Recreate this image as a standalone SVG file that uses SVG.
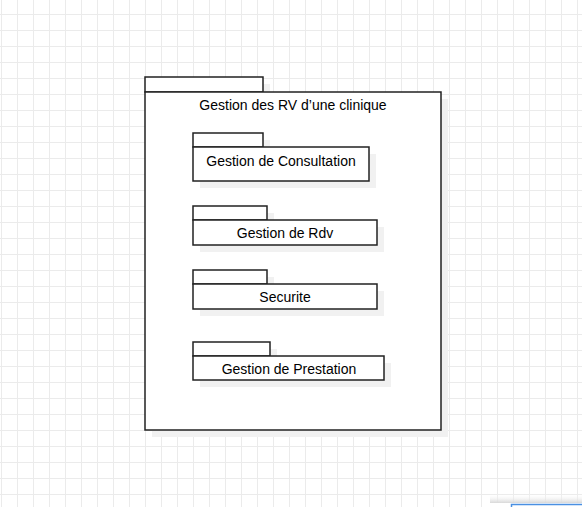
<svg xmlns="http://www.w3.org/2000/svg" width="582" height="507" viewBox="0 0 582 507">
  <defs>
    <pattern id="grid" x="1" y="14" width="16" height="16" patternUnits="userSpaceOnUse">
      <path d="M0.5 0V16M0 0.5H16" fill="none" stroke="#ebebeb" stroke-width="1"/>
    </pattern>
    <linearGradient id="uiShadow" x1="0" y1="0" x2="0" y2="1">
      <stop offset="0" stop-color="#ffffff" stop-opacity="0"/>
      <stop offset="1" stop-color="#d8d8d8"/>
    </linearGradient>
  </defs>
  <style>
    .shadow { fill: #f1f1f1; stroke: none; }
    .pkg { fill: #ffffff; stroke: #222222; stroke-width: 1.5; }
    .lbl { font-family: "Liberation Sans", Arial, sans-serif; font-size: 14px; fill: #000000; text-anchor: middle; }
  </style>
  <rect x="0" y="0" width="582" height="507" fill="#ffffff"/>
  <rect x="0" y="0" width="582" height="507" fill="url(#grid)"/>

  <g id="pkg-clinique">
    <rect class="shadow" x="152" y="84" width="118" height="15"/>
    <rect class="shadow" x="152" y="99" width="296" height="338"/>
    <rect class="pkg" x="145" y="77" width="118" height="15"/>
    <rect class="pkg" x="145" y="92" width="296" height="338"/>
    <text class="lbl" x="293" y="110">Gestion des RV d’une clinique</text>
  </g>

  <g id="pkg-consultation">
    <rect class="shadow" x="200" y="140" width="70" height="14"/>
    <rect class="shadow" x="200" y="154" width="176" height="34"/>
    <rect class="pkg" x="193" y="133" width="70" height="14"/>
    <rect class="pkg" x="193" y="147" width="176" height="34"/>
    <text class="lbl" x="281" y="166">Gestion de Consultation</text>
  </g>

  <g id="pkg-rdv">
    <rect class="shadow" x="200" y="213" width="74" height="14"/>
    <rect class="shadow" x="200" y="227" width="184" height="25"/>
    <rect class="pkg" x="193" y="206" width="74" height="14"/>
    <rect class="pkg" x="193" y="220" width="184" height="25"/>
    <text class="lbl" x="285" y="238">Gestion de Rdv</text>
  </g>

  <g id="pkg-securite">
    <rect class="shadow" x="200" y="277" width="74" height="14"/>
    <rect class="shadow" x="200" y="291" width="184" height="25"/>
    <rect class="pkg" x="193" y="270" width="74" height="14"/>
    <rect class="pkg" x="193" y="284" width="184" height="25"/>
    <text class="lbl" x="285" y="302">Securite</text>
  </g>

  <g id="pkg-prestation">
    <rect class="shadow" x="200" y="349" width="77" height="14"/>
    <rect class="shadow" x="200" y="363" width="191" height="24"/>
    <rect class="pkg" x="193" y="342" width="77" height="14"/>
    <rect class="pkg" x="193" y="356" width="191" height="24"/>
    <text class="lbl" x="289" y="374">Gestion de Prestation</text>
  </g>

  <g id="connectors"></g>

  <rect x="490" y="494" width="92" height="9" fill="url(#uiShadow)"/>
  <rect x="495" y="503" width="87" height="4" fill="#ffffff"/>
  <path d="M511.5 507V504.5H582" fill="none" stroke="#4a90e2" stroke-width="1.5"/>
</svg>
